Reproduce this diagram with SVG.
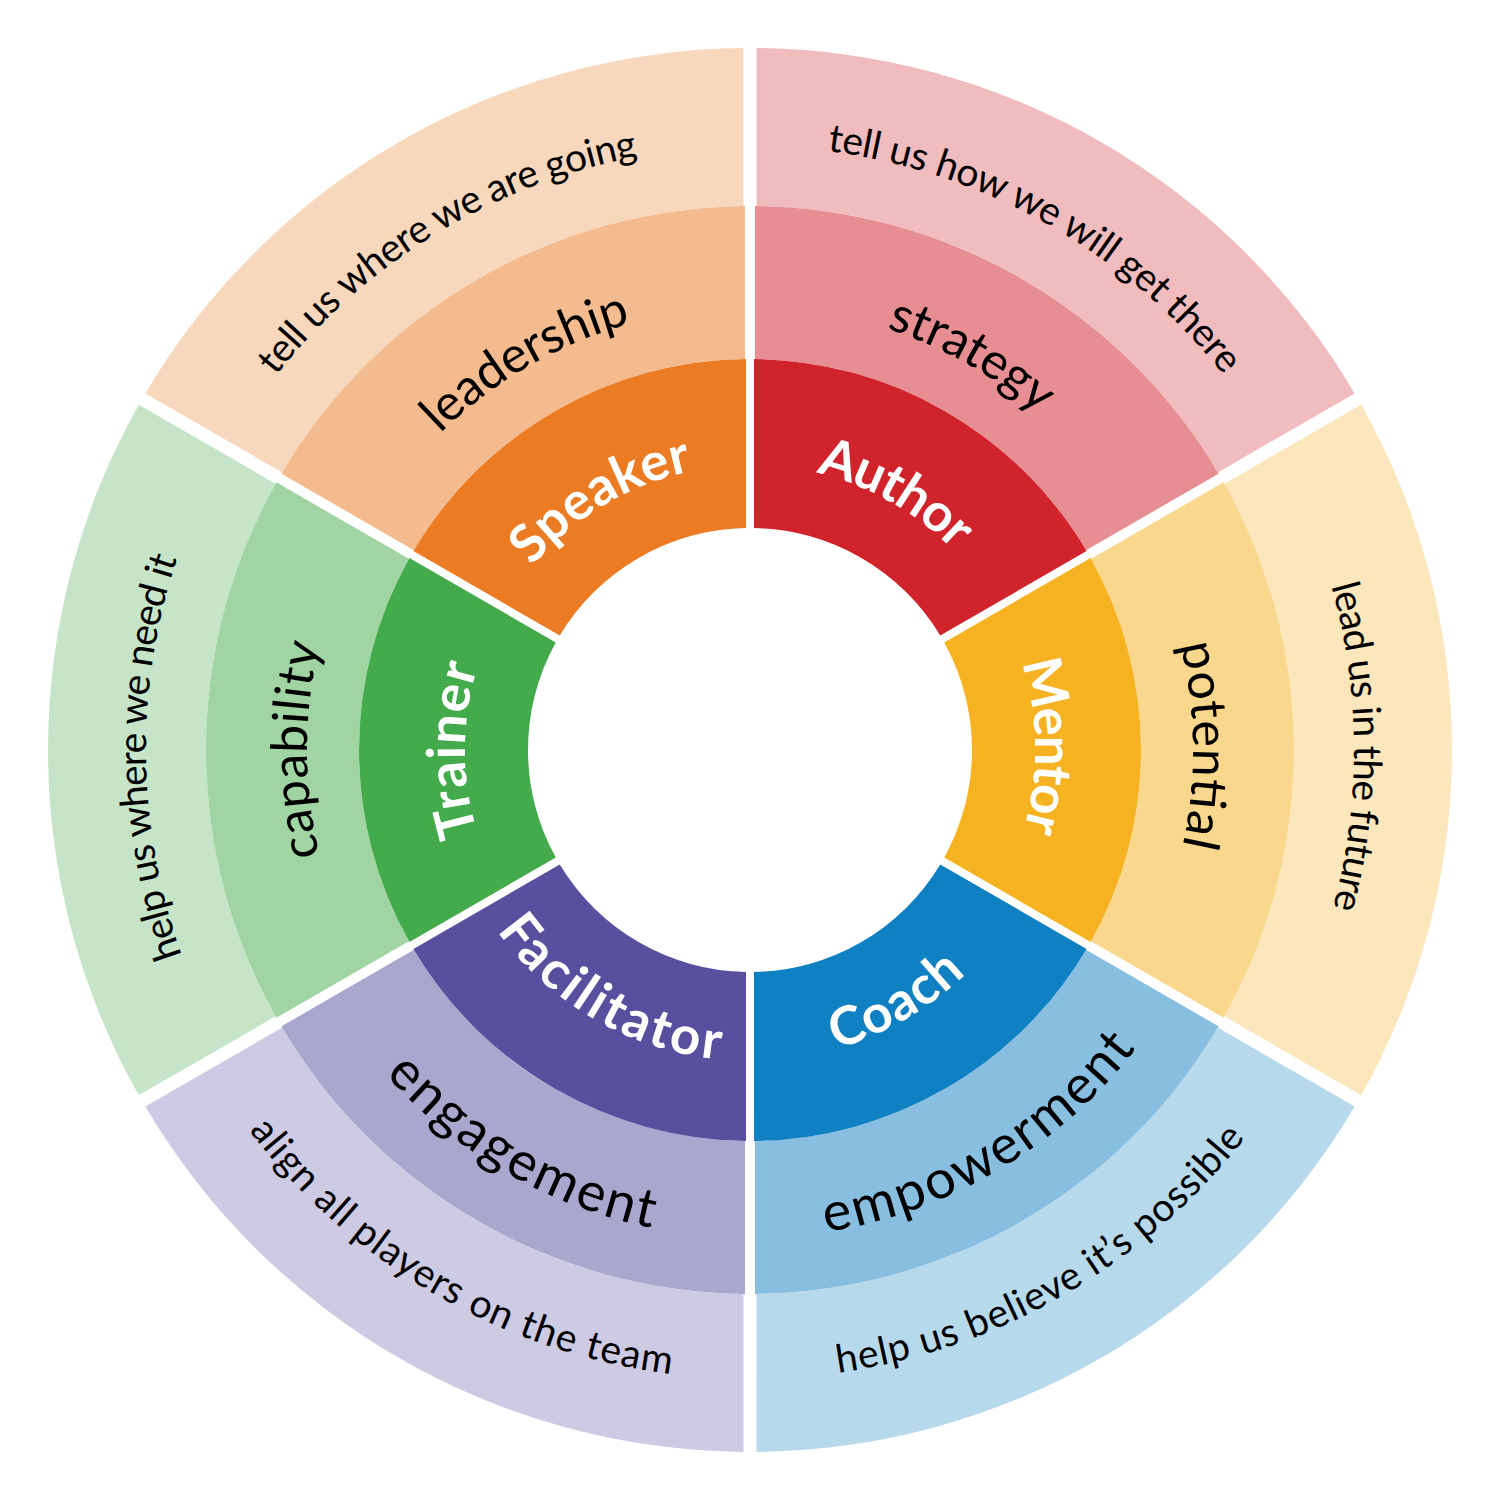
<svg xmlns="http://www.w3.org/2000/svg" width="1500" height="1500" viewBox="0 0 1500 1500">
<style>
  text { font-family: Lato, "Open Sans", "Liberation Sans", sans-serif; text-anchor: middle; }
  .lbl-in { font-size: 53px; font-weight: 700; fill: #ffffff; }
  .lbl-mid { font-size: 50px; font-weight: 400; fill: #000000; }
  .lbl-mid-b { font-size: 54px; font-weight: 400; fill: #000000; }
  .lbl-out { font-size: 39px; font-weight: 400; fill: #000000; }
</style>
<defs>
  <path id="ring-in" d="M1090.59 557.97 A391 391 0 0 1 1090.59 942.03 L944.23 857.52 A222 222 0 0 0 944.23 642.48 Z"/>
  <path id="ring-mid" d="M1223.60 482.34 A544 544 0 0 1 1223.60 1017.66 L1091.09 941.15 A391 391 0 0 0 1091.09 558.85 Z"/>
  <path id="ring-out" d="M1361.17 404.64 A702 702 0 0 1 1361.17 1095.36 L1224.33 1016.35 A544 544 0 0 0 1224.33 483.65 Z"/>
  <path id="t-in-cw" d="M847.48 482.19 A285 285 0 0 1 847.48 1017.81"/>
  <path id="t-in-ccw" d="M856.37 1042.24 A311 311 0 0 0 856.37 457.76"/>
  <path id="t-mid-cw" d="M901.52 333.72 A443 443 0 0 1 901.52 1166.28"/>
  <path id="t-mid-ccw" d="M916.91 1208.57 A488 488 0 0 0 916.91 291.43"/>
  <path id="t-out-cw" d="M956.58 182.43 A604 604 0 0 1 956.58 1317.57"/>
  <path id="t-out-ccw" d="M965.13 1341.07 A629 629 0 0 0 965.13 158.93"/>
</defs>

<g id="speaker" transform="rotate(-120 750 750)">
  <use href="#ring-out" fill="#F8D8BD"/>
  <use href="#ring-mid" fill="#F4BB8F"/>
  <use href="#ring-in" fill="#EC7C24"/>
  <text class="lbl-in" transform="rotate(-0.8 750 750)"><textPath href="#t-in-cw" startOffset="50%" textLength="190" lengthAdjust="spacing">Speaker</textPath></text>
  <text class="lbl-mid"><textPath href="#t-mid-cw" startOffset="50%" textLength="223" lengthAdjust="spacing">leadership</textPath></text>
  <text class="lbl-out" transform="rotate(-1.2 750 750)"><textPath href="#t-out-cw" startOffset="50%" textLength="433" lengthAdjust="spacing">tell us where we are going</textPath></text>
</g>

<g id="author" transform="rotate(-60 750 750)">
  <use href="#ring-out" fill="#F0BCBE"/>
  <use href="#ring-mid" fill="#E68E91"/>
  <use href="#ring-in" fill="#D1232C"/>
  <text class="lbl-in" transform="rotate(-0.5 750 750)"><textPath href="#t-in-cw" startOffset="50%" textLength="160" lengthAdjust="spacing">Author</textPath></text>
  <text class="lbl-mid" transform="rotate(-0.7 750 750)"><textPath href="#t-mid-cw" startOffset="50%" textLength="176" lengthAdjust="spacing">strategy</textPath></text>
  <text class="lbl-out" transform="rotate(-0.5 750 750)"><textPath href="#t-out-cw" startOffset="50%" textLength="467" lengthAdjust="spacing">tell us how we will get there</textPath></text>
</g>

<g id="mentor">
  <use href="#ring-out" fill="#FCE7BC"/>
  <use href="#ring-mid" fill="#F9D78C"/>
  <use href="#ring-in" fill="#F6B221"/>
  <text class="lbl-in" transform="rotate(-0.8 750 750)"><textPath href="#t-in-cw" startOffset="50%" textLength="170" lengthAdjust="spacing">Mentor</textPath></text>
  <text class="lbl-mid" transform="rotate(-0.6 750 750)"><textPath href="#t-mid-cw" startOffset="50%" textLength="203" lengthAdjust="spacing">potential</textPath></text>
  <text class="lbl-out" transform="rotate(-0.3 750 750)"><textPath href="#t-out-cw" startOffset="50%" textLength="326" lengthAdjust="spacing">lead us in the future</textPath></text>
</g>

<g id="coach" transform="rotate(60 750 750)">
  <use href="#ring-out" fill="#B6D9EC"/>
  <use href="#ring-mid" fill="#88BFE1"/>
  <use href="#ring-in" fill="#0F80C1"/>
  <text class="lbl-in"><textPath href="#t-in-ccw" startOffset="50%" textLength="152" lengthAdjust="spacing">Coach</textPath></text>
  <text class="lbl-mid-b" transform="rotate(-0.6 750 750)"><textPath href="#t-mid-ccw" startOffset="50%" textLength="369" lengthAdjust="spacing">empowerment</textPath></text>
  <text class="lbl-out"><textPath href="#t-out-ccw" startOffset="50%" textLength="482" lengthAdjust="spacing">help us believe it’s possible</textPath></text>
</g>

<g id="facilitator" transform="rotate(120 750 750)">
  <use href="#ring-out" fill="#CDCAE3"/>
  <use href="#ring-mid" fill="#A9A7CE"/>
  <use href="#ring-in" fill="#58509F"/>
  <text class="lbl-in"><textPath href="#t-in-ccw" startOffset="50%" textLength="265" lengthAdjust="spacing">Facilitator</textPath></text>
  <text class="lbl-mid-b"><textPath href="#t-mid-ccw" startOffset="50%" textLength="313" lengthAdjust="spacing">engagement</textPath></text>
  <text class="lbl-out"><textPath href="#t-out-ccw" startOffset="50%" textLength="500" lengthAdjust="spacing">align all players on the team</textPath></text>
</g>

<g id="trainer" transform="rotate(180 750 750)">
  <use href="#ring-out" fill="#C6E5C8"/>
  <use href="#ring-mid" fill="#A1D4A3"/>
  <use href="#ring-in" fill="#43AB4B"/>
  <text class="lbl-in"><textPath href="#t-in-cw" startOffset="50%" textLength="169" lengthAdjust="spacing">Trainer</textPath></text>
  <text class="lbl-mid"><textPath href="#t-mid-cw" startOffset="50%" textLength="213" lengthAdjust="spacing">capability</textPath></text>
  <text class="lbl-out" transform="rotate(-0.7 750 750)"><textPath href="#t-out-cw" startOffset="50%" textLength="404" lengthAdjust="spacing">help us where we need it</textPath></text>
</g>
</svg>
